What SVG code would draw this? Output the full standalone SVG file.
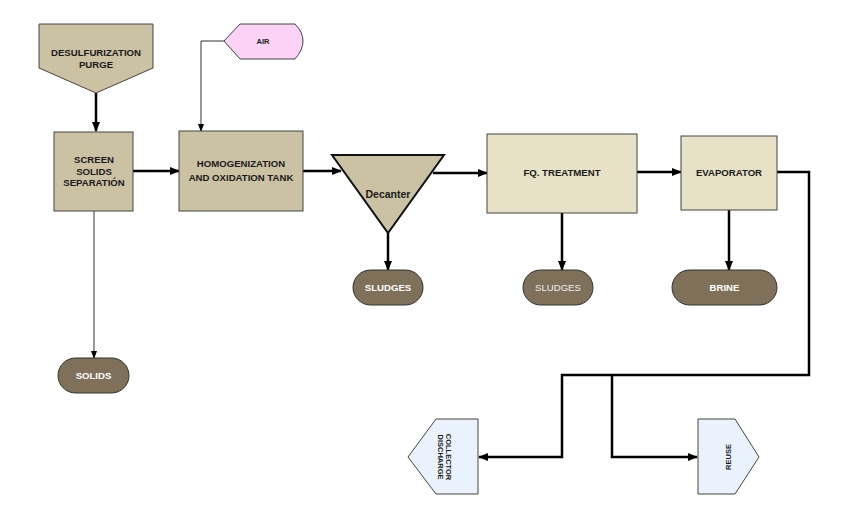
<svg xmlns="http://www.w3.org/2000/svg" width="848" height="518" viewBox="0 0 848 518">
<defs>
<style>
.t{font-family:"Liberation Sans",Arial,sans-serif;font-weight:bold;font-size:9.6px;fill:#1a1a1a;text-anchor:middle;dominant-baseline:central}
.w{fill:#fff}
.tan{fill:#cbc2a3;stroke:#444;stroke-width:1}
.lt{fill:#e7e1c7;stroke:#444;stroke-width:1}
.pill{fill:#7f7159;stroke:#333;stroke-width:1}
.blue{fill:#eaf3fd;stroke:#444;stroke-width:1}
.thick{fill:none;stroke:#000;stroke-width:2.5}
.thin{fill:none;stroke:#333;stroke-width:1}
</style>
<marker id="ah" markerWidth="10" markerHeight="8" refX="9" refY="4" orient="auto" markerUnits="userSpaceOnUse"><path d="M0,0 L10,4 L0,8 Z" fill="#000"/></marker>
<marker id="ahs" markerWidth="8" markerHeight="8" refX="7" refY="4" orient="auto" markerUnits="userSpaceOnUse"><path d="M0,1 L8,4 L0,7 Z" fill="#000"/></marker>
</defs>
<g id="connectors">
<path class="thick" d="M96,93 V131" marker-end="url(#ah)"/>
<path class="thin" d="M224,41 H201 V131" marker-end="url(#ahs)"/>
<path class="thick" d="M133,171 H179" marker-end="url(#ah)"/>
<path class="thick" d="M303,171 H341" marker-end="url(#ah)"/>
<path class="thick" d="M433,173 H487" marker-end="url(#ah)"/>
<path class="thick" d="M637,172 H681" marker-end="url(#ah)"/>
<path class="thin" d="M94,211 V358" marker-end="url(#ahs)"/>
<path class="thick" d="M388,233 V270" marker-end="url(#ah)"/>
<path class="thick" d="M562,213 V270" marker-end="url(#ah)"/>
<path class="thick" d="M729,210 V270" marker-end="url(#ah)"/>
<path class="thick" d="M777,172 H809 V375 H562 V457 H479" marker-end="url(#ah)"/>
<path class="thick" d="M612,375 V457 H697" marker-end="url(#ah)"/>
</g>
<g id="desulfurization">
<path class="tan" d="M39,24 H153 V68 L96,93 L39,68 Z"/>
<text class="t" x="96" y="52">DESULFURIZATION</text>
<text class="t" x="96" y="64">PURGE</text>
</g>
<g id="air">
<path d="M224,41 L240,24 H295 Q303,32 303,41 Q303,50 295,59 H240 Z" fill="#fcd2f6" stroke="#444" stroke-width="1"/>
<text class="t" x="263" y="41" style="font-size:7.5px">AIR</text>
</g>
<g id="screen">
<rect class="tan" x="54" y="132" width="79" height="79"/>
<text class="t" x="94" y="159">SCREEN</text>
<text class="t" x="94" y="171">SOLIDS</text>
<text class="t" x="94" y="182">SEPARATIÓN</text>
</g>
<g id="homogenization">
<rect class="tan" x="179" y="131" width="124" height="80"/>
<text class="t" x="241" y="163">HOMOGENIZATION</text>
<text class="t" x="241" y="177">AND OXIDATION TANK</text>
</g>
<g id="decanter">
<path d="M332,155 H444 L388,233 Z" fill="#cbc2a3" stroke="#111" stroke-width="2"/>
<text class="t" x="388" y="194" style="font-size:10.5px">Decanter</text>
</g>
<g id="fq">
<rect class="lt" x="487" y="134" width="150" height="79"/>
<text class="t" x="562" y="172">FQ. TREATMENT</text>
</g>
<g id="evaporator">
<rect class="lt" x="681" y="136" width="96" height="74"/>
<text class="t" x="729" y="172">EVAPORATOR</text>
</g>
<g id="solids">
<rect class="pill" x="58" y="358" width="71" height="35" rx="17.5"/>
<text class="t w" x="93.5" y="375.5">SOLIDS</text>
</g>
<g id="sludges1">
<rect class="pill" x="353" y="270" width="70" height="35" rx="17.5"/>
<text class="t w" x="388" y="287.5">SLUDGES</text>
</g>
<g id="sludges2">
<rect class="pill" x="523" y="270" width="70" height="35" rx="17.5"/>
<text class="t" x="558" y="287.5" style="font-weight:normal;fill:#eee">SLUDGES</text>
</g>
<g id="brine">
<rect class="pill" x="672" y="270" width="105" height="35" rx="17.5"/>
<text class="t w" x="724.5" y="287.5">BRINE</text>
</g>
<g id="collector">
<path class="blue" d="M408,457 L436,419 H478 V494 H436 Z"/>
<text class="t" transform="translate(448,457) rotate(90)" style="font-size:7.5px">COLLECTOR</text>
<text class="t" transform="translate(440,457) rotate(90)" style="font-size:7.5px">DISCHARGE</text>
</g>
<g id="reuse">
<path class="blue" d="M698,419 H735 L759,457 L735,494 H698 Z"/>
<text class="t" transform="translate(728,457) rotate(-90)" style="font-size:7.5px">REUSE</text>
</g>
</svg>
